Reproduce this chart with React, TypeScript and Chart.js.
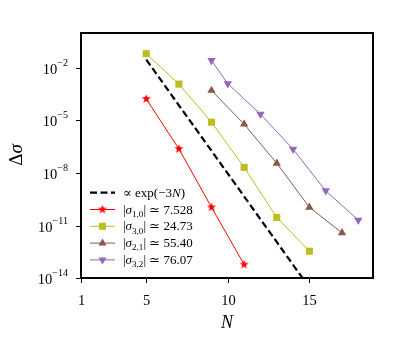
import React, { useEffect, useRef } from 'react';
import { Chart, registerables } from 'chart.js';

Chart.register(...registerables);

const FONT = '"Liberation Serif", "DejaVu Serif", serif';

// Tick values
const xTicks = [1, 5, 10, 15];
const yTickExponents = [-14, -11, -8, -5, -2];

// Reference line  ∝ exp(-3N)  (two end points, clipped by the axes)
const expN = [5, 18];
const expVals = [3.0e-2, 3.5e-19];

// |σ1,0| ≃ 7.528
const s10N = [5, 7, 9, 11];
const s10Vals = [1.7e-4, 2.4e-7, 1.1e-10, 5.9e-14];

// |σ3,0| ≃ 24.73
const s30N = [5, 7, 9, 11, 13, 15];
const s30Vals = [6.6e-2, 1.2e-3, 8.0e-6, 2.1e-8, 2.9e-11, 3.4e-13];

// |σ2,1| ≃ 55.40
const s21N = [9, 11, 13, 15, 17];
const s21Vals = [5.2e-4, 6.2e-6, 3.6e-8, 1.1e-10, 3.8e-12];

// |σ3,2| ≃ 76.07
const s32N = [9, 10, 12, 14, 16, 18];
const s32Vals = [2.7e-2, 1.26e-3, 2.3e-5, 2.3e-7, 9.7e-10, 2.0e-11];

type Seg = { t: string; it?: boolean; sub?: boolean; sup?: boolean };

const legendTexts: Seg[][] = [
  [{ t: '∝ exp(−3' }, { t: 'N', it: true }, { t: ')' }],
  [{ t: '|' }, { t: 'σ', it: true }, { t: '1,0', sub: true }, { t: '| ≃ 7.528' }],
  [{ t: '|' }, { t: 'σ', it: true }, { t: '3,0', sub: true }, { t: '| ≃ 24.73' }],
  [{ t: '|' }, { t: 'σ', it: true }, { t: '2,1', sub: true }, { t: '| ≃ 55.40' }],
  [{ t: '|' }, { t: 'σ', it: true }, { t: '3,2', sub: true }, { t: '| ≃ 76.07' }],
];

const RED = '#ff0000';
const OLIVE = '#bcbd22';
const BROWN = '#8c564b';
const PURPLE = '#9467bd';

function drawRich(
  ctx: CanvasRenderingContext2D,
  segs: Seg[],
  x: number,
  y: number,
  size: number,
  align: 'left' | 'right' | 'center'
) {
  const parts = segs.map((s) => {
    const fs = s.sub || s.sup ? size * 0.7 : size;
    const font = `${s.it ? 'italic ' : ''}${fs}px ${FONT}`;
    ctx.font = font;
    return {
      s,
      font,
      w: ctx.measureText(s.t).width,
      dy: s.sub ? size * 0.25 : s.sup ? -size * 0.5 : 0,
    };
  });
  const total = parts.reduce((a, p) => a + p.w, 0);
  let cx = align === 'right' ? x - total : align === 'center' ? x - total / 2 : x;
  ctx.textBaseline = 'alphabetic';
  ctx.textAlign = 'left';
  parts.forEach((p) => {
    ctx.font = p.font;
    ctx.fillText(p.s.t, cx, y + p.dy);
    cx += p.w;
  });
}

function makeStar(color: string, r: number): HTMLCanvasElement {
  const size = Math.ceil(r * 2 + 2);
  const c = document.createElement('canvas');
  c.width = size;
  c.height = size;
  const g = c.getContext('2d')!;
  const cx = size / 2;
  const cy = size / 2;
  const ri = r * 0.42;
  g.beginPath();
  for (let i = 0; i < 10; i++) {
    const rad = i % 2 === 0 ? r : ri;
    const a = -Math.PI / 2 + (i * Math.PI) / 5;
    const px = cx + rad * Math.cos(a);
    const py = cy + rad * Math.sin(a);
    if (i === 0) g.moveTo(px, py);
    else g.lineTo(px, py);
  }
  g.closePath();
  g.fillStyle = color;
  g.fill();
  return c;
}

function drawMarker(ctx: CanvasRenderingContext2D, kind: string, x: number, y: number, color: string, star?: HTMLCanvasElement) {
  ctx.save();
  ctx.fillStyle = color;
  ctx.strokeStyle = color;
  ctx.lineWidth = 1;
  if (kind === 'star' && star) {
    ctx.drawImage(star, x - star.width / 2, y - star.height / 2);
  } else if (kind === 'rect') {
    const s = 3.5;
    ctx.fillRect(x - s, y - s, 2 * s, 2 * s);
  } else if (kind === 'up' || kind === 'down') {
    const r = 4.6;
    const d = kind === 'up' ? 1 : -1;
    ctx.beginPath();
    ctx.moveTo(x, y - d * r);
    ctx.lineTo(x + r * 0.866, y + d * r * 0.5);
    ctx.lineTo(x - r * 0.866, y + d * r * 0.5);
    ctx.closePath();
    ctx.fill();
  }
  ctx.restore();
}

export default function App() {
  const ref = useRef<HTMLCanvasElement | null>(null);

  useEffect(() => {
    document.body.style.margin = '0';
    const canvas = ref.current;
    if (!canvas) return;

    const star = makeStar(RED, 4.8);

    const toXY = (xs: number[], ys: number[]) => xs.map((x, i) => ({ x, y: ys[i] }));

    const legendStyles = [
      { color: '#000', dash: [7, 3.5], width: 2.2, marker: 'none' },
      { color: RED, dash: [], width: 1, marker: 'star' },
      { color: OLIVE, dash: [], width: 1, marker: 'rect' },
      { color: BROWN, dash: [], width: 1, marker: 'up' },
      { color: PURPLE, dash: [], width: 1, marker: 'down' },
    ];

    const custom = {
      id: 'customDecor',
      afterDraw(chart: any) {
        const ctx: CanvasRenderingContext2D = chart.ctx;
        const ca = chart.chartArea;
        const xs = chart.scales.x;
        const ys = chart.scales.y;
        ctx.save();
        ctx.fillStyle = '#000';
        ctx.strokeStyle = '#000';
        // frame
        ctx.lineWidth = 2;
        ctx.strokeRect(ca.left, ca.top, ca.right - ca.left, ca.bottom - ca.top);
        // y ticks
        ctx.lineWidth = 1;
        yTickExponents.forEach((e) => {
          const py = Math.round(ys.getPixelForValue(Math.pow(10, e))) + 0.5;
          ctx.beginPath();
          ctx.moveTo(ca.left - 5, py);
          ctx.lineTo(ca.left, py);
          ctx.stroke();
          drawRich(ctx, [{ t: '10' }, { t: '−' + Math.abs(e), sup: true }], 68, py + 5, 14.5, 'right');
        });
        // x ticks
        xTicks.forEach((v) => {
          const px = Math.round(xs.getPixelForValue(v)) + 0.5;
          ctx.beginPath();
          ctx.moveTo(px, ca.bottom);
          ctx.lineTo(px, ca.bottom + 5);
          ctx.stroke();
          drawRich(ctx, [{ t: String(v) }], px, 304.5, 14.5, 'center');
        });
        // axis titles
        drawRich(ctx, [{ t: 'N', it: true }], (ca.left + ca.right) / 2, 327.5, 18, 'center');
        ctx.save();
        ctx.translate(21.5, 155);
        ctx.rotate(-Math.PI / 2);
        drawRich(ctx, [{ t: 'Δ' }, { t: 'σ', it: true }], 0, 0, 19, 'center');
        ctx.restore();
        // legend
        const rowY0 = 192.7;
        const rowStep = 16.8;
        legendTexts.forEach((segs, i) => {
          const st = legendStyles[i];
          const y = rowY0 + i * rowStep;
          ctx.save();
          ctx.strokeStyle = st.color;
          ctx.lineWidth = st.width;
          ctx.setLineDash(st.dash);
          ctx.beginPath();
          ctx.moveTo(90, y);
          ctx.lineTo(115, y);
          ctx.stroke();
          ctx.restore();
          if (st.marker !== 'none') drawMarker(ctx, st.marker, 102.5, y, st.color, star);
          ctx.fillStyle = '#000';
          drawRich(ctx, segs, 123, y + 4, 13, 'left');
        });
        ctx.restore();
      },
    };

    const chart = new Chart(canvas, {
      type: 'line',
      data: {
        datasets: [
          {
            label: 'exp',
            data: toXY(expN, expVals),
            borderColor: '#000',
            borderWidth: 2.2,
            borderDash: [7, 3.5],
            pointRadius: 0,
            fill: false,
          },
          {
            label: 's10',
            data: toXY(s10N, s10Vals),
            borderColor: RED,
            borderWidth: 1,
            pointStyle: star as any,
            pointRadius: 5,
            fill: false,
          },
          {
            label: 's30',
            data: toXY(s30N, s30Vals),
            borderColor: OLIVE,
            backgroundColor: OLIVE,
            borderWidth: 1,
            pointStyle: 'rect',
            pointRadius: 5,
            pointBorderWidth: 0,
            pointBackgroundColor: OLIVE,
            fill: false,
          },
          {
            label: 's21',
            data: toXY(s21N, s21Vals),
            borderColor: BROWN,
            backgroundColor: BROWN,
            borderWidth: 1,
            pointStyle: 'triangle',
            pointRadius: 4.8,
            pointBorderWidth: 0,
            pointBackgroundColor: BROWN,
            fill: false,
          },
          {
            label: 's32',
            data: toXY(s32N, s32Vals),
            borderColor: PURPLE,
            backgroundColor: PURPLE,
            borderWidth: 1,
            pointStyle: 'triangle',
            pointRotation: 180,
            pointRadius: 4.8,
            pointBorderWidth: 0,
            pointBackgroundColor: PURPLE,
            fill: false,
          },
        ],
      },
      options: {
        responsive: false,
        animation: false,
        events: [],
        layout: { padding: { left: 0, top: 33, right: 34, bottom: 0 } },
        plugins: { legend: { display: false }, tooltip: { enabled: false } },
        elements: { line: { tension: 0 } },
        scales: {
          x: {
            type: 'linear',
            min: 1,
            max: 18.9,
            grid: { display: false },
            border: { display: false },
            ticks: { display: false },
            afterFit: (s: any) => {
              s.height = 61;
            },
          },
          y: {
            type: 'logarithmic',
            min: 1e-14,
            max: 1,
            grid: { display: false },
            border: { display: false },
            ticks: { display: false },
            afterFit: (s: any) => {
              s.width = 81;
            },
          },
        },
      },
      plugins: [custom],
    });

    return () => chart.destroy();
  }, []);

  return (
    <div style={{ width: 407, height: 339 }}>
      <canvas ref={ref} width={407} height={339} style={{ display: 'block' }} />
    </div>
  );
}
